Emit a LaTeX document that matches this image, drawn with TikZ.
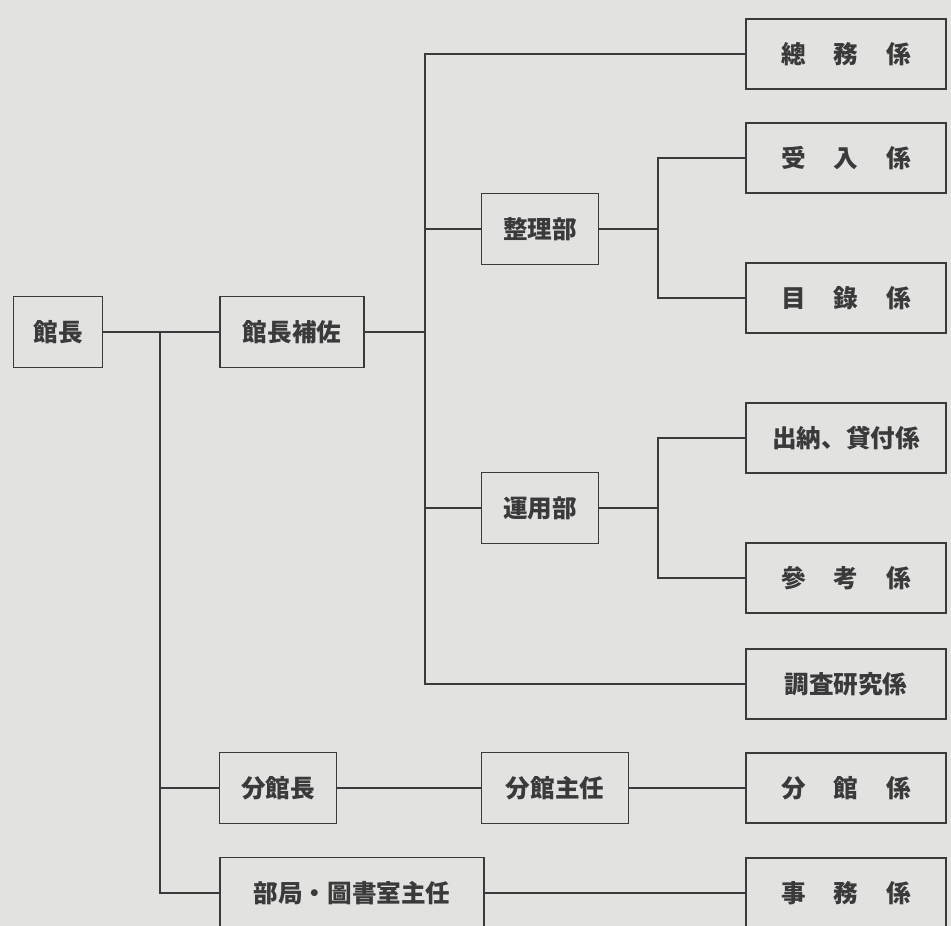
\documentclass[tikz,border=0pt]{standalone}
\usepackage{fontspec}
\newfontfamily\jpfont{Noto Sans CJK JP}
\usepackage{tikz}
\definecolor{paper}{HTML}{E2E2E0}
\definecolor{ink}{HTML}{3A3A3A}

\begin{document}
\begin{tikzpicture}[ x=0.02cm, y=-0.02cm,
	box/.style={ draw=ink, line width=1.1pt, fill=paper, text=ink, inner sep=0pt, minimum height=1.42cm, font=\jpfont\bfseries\fontsize{14}{16}\selectfont },
	rbox/.style={ box, minimum width=4cm, minimum height=1.4cm },
	link/.style={ draw=ink, line width=1.1pt } ]

	\def\gap{\hspace{0.56cm}}
	\def\rx{846}
	\def\trunka{160}
	\def\trunkb{425}
	\def\trunkc{658}

	\useasboundingbox (0,0) rectangle (951,926);
	\clip (0,0) rectangle (951,926);
	\fill[ paper ] (0,0) rectangle (951,926);

	\node[ box, minimum width=1.78cm ] (kancho) at (58,332) {館長};
	\node[ box, minimum width=2.88cm ] (hosa) at (292,332) {館長補佐};
	\node[ box, minimum width=2.34cm ] (seiri) at (540,229) {整理部};
	\node[ box, minimum width=2.34cm ] (unyo) at (540,508) {運用部};
	\node[ box, minimum width=2.34cm ] (bunkancho) at (278,788) {分館長};
	\node[ box, minimum width=2.94cm ] (shunin) at (555,788) {分館主任};
	\node[ box, minimum width=5.28cm ] (bukyoku) at (352,893) {部局・圖書室主任};

	\node[ rbox ] (somu) at (\rx,54) {總\gap 務\gap 係};
	\node[ rbox ] (ukeire) at (\rx,158) {受\gap 入\gap 係};
	\node[ rbox ] (mokuroku) at (\rx,298) {目\gap 錄\gap 係};
	\node[ rbox ] (suito) at (\rx,438) {出納、貸付係};
	\node[ rbox ] (sanko) at (\rx,578) {參\gap 考\gap 係};
	\node[ rbox ] (chosa) at (\rx,684) {調査研究係};
	\node[ rbox ] (bunkan) at (\rx,788) {分\gap 館\gap 係};
	\node[ rbox ] (jimu) at (\rx,893) {事\gap 務\gap 係};

	\coordinate (ja) at (\trunka,332);
	\coordinate (jb) at (\trunkb,332);
	\coordinate (jc) at (\trunkc,229);
	\coordinate (jd) at (\trunkc,508);

	\draw[ link ] (kancho) -- (hosa);
	\draw[ link ] (ja) |- (bunkancho.west);
	\draw[ link ] (ja) |- (bukyoku.west);

	\draw[ link ] (hosa) -- (jb);
	\draw[ link ] (somu.west) -| (jb) |- (chosa.west);
	\draw[ link ] (jb |- seiri.west) -- (seiri.west);
	\draw[ link ] (jb |- unyo.west) -- (unyo.west);

	\draw[ link ] (seiri) -- (jc);
	\draw[ link ] (ukeire.west) -| (jc) |- (mokuroku.west);
	\draw[ link ] (unyo) -- (jd);
	\draw[ link ] (suito.west) -| (jd) |- (sanko.west);

	\draw[ link ] (bunkancho) -- (shunin) -- (bunkan);
	\draw[ link ] (bukyoku) -- (jimu);

\end{tikzpicture}
\end{document}
